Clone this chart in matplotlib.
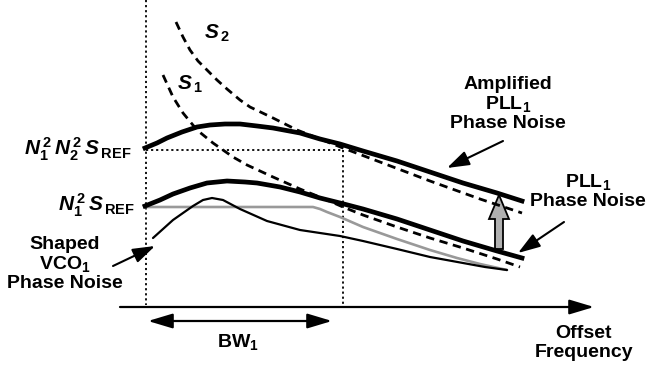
import matplotlib
matplotlib.use("Agg")
import matplotlib.pyplot as plt
from matplotlib.patches import FancyArrow

plt.rcParams["font.family"] = ["Liberation Sans", "DejaVu Sans"]
plt.rcParams["mathtext.fontset"] = "custom"
plt.rcParams["mathtext.rm"] = "Liberation Sans:bold"
plt.rcParams["mathtext.it"] = "Liberation Sans:italic:bold"
plt.rcParams["mathtext.bf"] = "Liberation Sans:bold"

# curve shapes (pixel x, pixel y; y grows downward)
amp_x = [145, 157, 167, 182, 197, 210, 225, 240, 257, 273, 300, 320, 340, 363, 397, 430, 463, 497, 522]
amp_y = [148, 143, 138, 132, 127, 125, 124, 124, 126, 128, 133, 139, 144, 151, 161, 172, 183, 193, 201]
pll_x = [145, 160, 173, 190, 207, 227, 245, 257, 280, 300, 320, 340, 363, 397, 430, 463, 497, 522]
pll_y = [206, 200, 194, 188, 183, 181, 182, 183, 187, 192, 198, 203, 209, 219, 230, 241, 251, 258]
ref_x = [145, 313, 320, 327, 340, 363, 397, 430, 457, 480, 507]
ref_y = [207, 207, 209, 212, 217, 227, 239, 250, 258, 264, 270]
vco_x = [153, 163, 173, 183, 193, 203, 212, 223, 240, 267, 300, 340, 363, 397, 430, 463, 485, 507]
vco_y = [238, 229, 220, 213, 206, 200, 198, 200, 209, 221, 230, 236, 241, 249, 257, 263, 267, 270]
s1_x = [163, 173, 183, 197, 213, 233, 247, 273, 300, 327, 343, 363, 397, 430, 463, 497, 520]
s1_y = [75, 97, 113, 130, 143, 157, 165, 177, 189, 200, 207, 215, 227, 238, 248, 259, 267]
s2_x = [176, 183, 190, 198, 207, 217, 227, 240, 250, 273, 297, 320, 343, 380, 430, 480, 522]
s2_y = [22, 37, 50, 61, 70, 80, 89, 100, 107, 118, 130, 139, 148, 162, 181, 199, 213]

fig = plt.figure(figsize=(6.47, 3.69), dpi=100)
ax = fig.add_axes([0, 0, 1, 1])
ax.set_xlim(0, 647); ax.set_ylim(369, 0); ax.axis("off")

# dotted guides
dot = dict(color="black", lw=1.3, ls=(0, (1.2, 1.6)))
ax.plot([146, 146], [0, 305], **dot)
ax.plot([146, 343], [150, 150], **dot)
ax.plot([343, 343], [150, 305], **dot)

# curves
dash = dict(color="black", lw=2.0, ls=(0, (3.0, 2.0)))
ax.plot(s2_x, s2_y, **dash)
ax.plot(s1_x, s1_y, **dash)
ax.plot(ref_x, ref_y, color="#999999", lw=1.9, solid_capstyle="round", solid_joinstyle="round")
ax.plot(vco_x, vco_y, color="black", lw=1.6, solid_capstyle="round", solid_joinstyle="round")
ax.plot(amp_x, amp_y, color="black", lw=3.4, solid_joinstyle="round")
ax.plot(pll_x, pll_y, color="black", lw=3.4, solid_joinstyle="round")

# gray block arrow
ax.add_patch(FancyArrow(499, 249, 0, -54, width=8, head_width=20, head_length=24,
                        length_includes_head=True, fc="#b0b0b0", ec="black", lw=1.3))

# axis and bandwidth arrows
ax.annotate("", xy=(594, 307), xytext=(120, 307),
            arrowprops=dict(arrowstyle="-|>,head_length=1.0,head_width=0.3", lw=1.6,
                            color="black", mutation_scale=15, shrinkA=0, shrinkB=0))
ax.annotate("", xy=(148, 321), xytext=(332, 321),
            arrowprops=dict(arrowstyle="<|-|>,head_length=1.0,head_width=0.3", lw=1.6,
                            color="black", mutation_scale=15, shrinkA=0, shrinkB=0))

arr = dict(arrowstyle="-|>,head_length=0.9,head_width=0.3", lw=1.5, color="black",
           mutation_scale=15, shrinkA=0, shrinkB=0)
ax.annotate("", xy=(447, 168), xytext=(503, 141), arrowprops=arr)
ax.annotate("", xy=(518, 253), xytext=(564, 222), arrowprops=arr)
ax.annotate("", xy=(155, 246), xytext=(113, 266), arrowprops=arr)

fs = 14
kw = dict(fontsize=fs, fontweight="bold", color="black")
mk = dict(fontsize=15, color="black")
ax.text(204, 33, r"$S_{\,2}$", ha="left", va="center", **mk)
ax.text(177, 84, r"$S_{\,1}$", ha="left", va="center", **mk)
ax.text(131, 149, r"$N_1^{\,2}\,N_2^{\,2}\,S_{\,\rm REF}$", ha="right", va="center", **mk)
ax.text(135, 205, r"$N_1^{\,2}\,S_{\,\rm REF}$", ha="right", va="center", **mk)
ax.text(65, 264, "Shaped\nVCO$_1$\nPhase Noise", ha="center", va="center", linespacing=1.1, **kw)
ax.text(508, 104, "Amplified\nPLL$_1$\nPhase Noise", ha="center", va="center", linespacing=1.1, **kw)
ax.text(588, 191, "PLL$_1$\nPhase Noise", ha="center", va="center", linespacing=1.1, **kw)
ax.text(238, 342, "BW$_1$", ha="center", va="center", **kw)
ax.text(584, 343, "Offset\nFrequency", ha="center", va="center", linespacing=1.1, **kw)

fig.savefig("out.png", dpi=100)
